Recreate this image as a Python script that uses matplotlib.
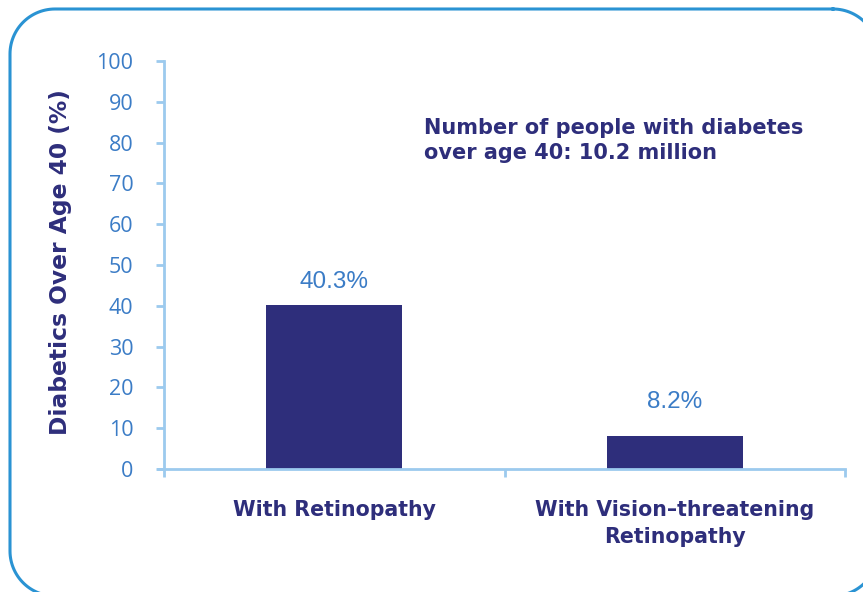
import numpy as np
import matplotlib
matplotlib.use("Agg")
import matplotlib.pyplot as plt
from matplotlib.lines import Line2D

# Data
categories = ["With Retinopathy", "With Vision\u2013threatening\nRetinopathy"]
values = [40.3, 8.2]
value_labels = ["40.3%", "8.2%"]
y_ticks = [0, 10, 20, 30, 40, 50, 60, 70, 80, 90, 100]
note = "Number of people with diabetes\nover age 40: 10.2 million"
y_label = "Diabetics Over Age 40 (%)"

NAVY = "#2e2e7b"
TICK_BLUE = "#3b7cc6"
AXIS_BLUE = "#9ccaee"
FRAME_BLUE = "#2a93d3"

BOLD = ["DejaVu Sans"]
plt.rcParams["font.family"] = ["Open Sans", "DejaVu Sans"]

W, H, DPI = 863, 592, 100
fig = plt.figure(figsize=(W / DPI, H / DPI), dpi=DPI)
fig.patch.set_facecolor("white")


def rounded_rect(x0, y0, x1, y1, r, n=30):
    """Outline of a rounded rectangle in pixel coords (y downward)."""
    pts = []
    corners = [(x1 - r, y0 + r, -90, 0), (x1 - r, y1 - r, 0, 90),
               (x0 + r, y1 - r, 90, 180), (x0 + r, y0 + r, 180, 270)]
    for cx, cy, a0, a1 in corners:
        t = np.radians(np.linspace(a0, a1, n))
        pts.extend(zip(cx + r * np.cos(t), cy + r * np.sin(t)))
    pts.append(pts[0])
    xs, ys = zip(*pts)
    return np.array(xs) / W, 1 - np.array(ys) / H


fx, fy = rounded_rect(10, 9, 878, 596, 45)
fig.add_artist(Line2D(fx, fy, transform=fig.transFigure, color=FRAME_BLUE,
                      linewidth=2.2, solid_joinstyle="round"))

ax = fig.add_axes([164 / W, 1 - 469 / H, (845 - 164) / W, (469 - 61) / H])
x = list(range(len(categories)))
bars = ax.bar(x, values, width=0.4, color=NAVY, zorder=2)

ax.set_xlim(-0.5, 1.5)
ax.set_ylim(0, 100)
ax.set_yticks(y_ticks)
ax.set_yticklabels([str(t) for t in y_ticks], color=TICK_BLUE, fontsize=15.5)
ax.set_xticks([-0.5, 0.5, 1.5])
ax.set_xticklabels([])

for side in ("top", "right"):
    ax.spines[side].set_visible(False)
for side in ("left", "bottom"):
    ax.spines[side].set_color(AXIS_BLUE)
    ax.spines[side].set_linewidth(2)
ax.spines["bottom"].set_bounds(-0.518, 1.5)
ax.tick_params(axis="y", length=6, width=2, color=AXIS_BLUE, pad=16)
ax.tick_params(axis="x", length=6, width=2, color=AXIS_BLUE)

# value labels above bars
offsets = [8.5, 16]
for rect, lab, off in zip(bars, value_labels, offsets):
    ax.annotate(lab, (rect.get_x() + rect.get_width() / 2, rect.get_height()),
                xytext=(0, off), textcoords="offset points",
                ha="center", va="bottom", color=TICK_BLUE, fontsize=17.5,
                family="Liberation Sans")

# category labels below axis
for xi, cat in zip(x, categories):
    ax.text(xi, -7.7, cat, ha="center", va="top", color=NAVY,
            fontsize=14.8, fontweight="bold", linespacing=1.4, family=BOLD)

ax.text(0.264, 86, note, ha="left", va="top", color=NAVY,
        fontsize=15, fontweight="bold", linespacing=1.33, family=BOLD)

fig.text(60 / W, 1 - 262 / H, y_label, rotation=90, ha="center", va="center",
         color=NAVY, fontsize=16.8, fontweight="bold", family=BOLD)

fig.savefig("out.png", dpi=DPI)
